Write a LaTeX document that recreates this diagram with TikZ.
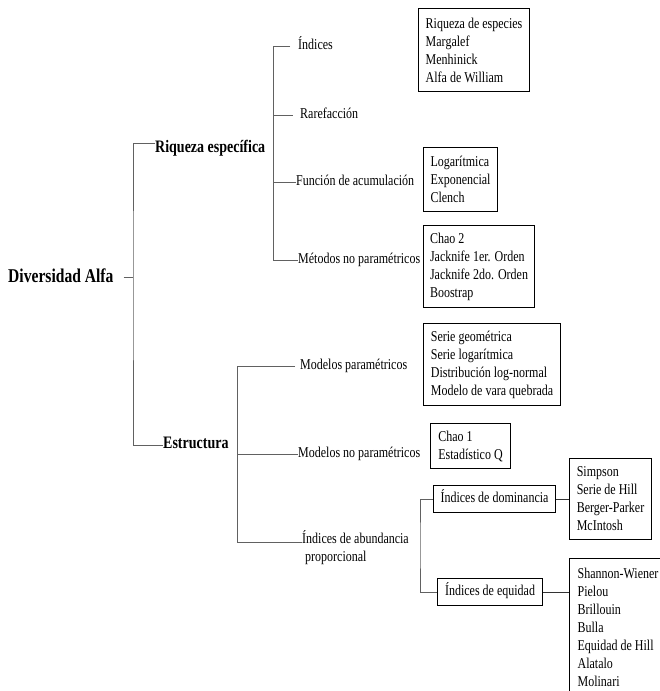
\documentclass[tikz,border=0pt]{standalone}
\usepackage{fontspec}
\setmainfont{Liberation Serif}[FakeStretch=0.8]
\begin{document}
\begin{tikzpicture}[x=1pt,y=-1pt,
  conn/.style={draw=black!62, line width=0.8pt},
  lbl/.style={inner sep=0pt, anchor=west, font=\fontsize{15}{18}\selectfont,
    text height=10.5pt, text depth=3.5pt},
  head/.style={lbl, font=\fontsize{17.5}{21}\bfseries\selectfont,
    text height=12pt, text depth=4pt},
  listbox/.style={draw=black, line width=1.1pt, anchor=north west, align=left,
    inner sep=0pt, font=\fontsize{15}{18}\selectfont},
  tagbox/.style={draw=black, line width=1.1pt, anchor=north west, inner sep=0pt,
    minimum height=27pt, font=\fontsize{15}{18}\selectfont,
    text height=10.5pt, text depth=3.5pt}
]
\useasboundingbox (0,0) rectangle (660,691);
\clip (0,0) rectangle (660,691);
\fill[white] (0,0) rectangle (660,691);

% root and first level
\node[head, font=\fontsize{19.5}{23}\bfseries\selectfont] (root) at (8,278) {Diversidad Alfa};
\node[head] (rq) at (155,148) {Riqueza específica};
\node[head] (est) at (163,444) {Estructura};

\coordinate (rootJ) at (133,277);
\draw[conn] ([xshift=10pt,yshift=1pt]root.east) -- (rootJ);
\draw[conn] ([yshift=5pt]rq.west) -| (rootJ) |- ([yshift=-1pt]est.west);

% species richness branch
\node[lbl] (ind) at (298,46) {Índices};
\node[lbl] (rar) at (300,115) {Rarefacción};
\node[lbl] (fun) at (296,182) {Función de acumulación};
\node[lbl] (met) at (298,260) {Métodos no paramétricos};
\coordinate (rqT) at (273,46);
\draw[conn] ([xshift=-8pt]ind.west) -| (rqT |- met.west) -- (met.west);
\draw[conn] (rqT |- rar.west) -- ([xshift=-7pt]rar.west);
\draw[conn] (rqT |- fun.west) -- (fun.west);

% structure branch
\node[lbl] (mp) at (300,366) {Modelos paramétricos};
\node[lbl] (mnp) at (298,454) {Modelos no paramétricos};
\node[inner sep=0pt, anchor=west, align=left, font=\fontsize{15}{18}\selectfont]
  (iap) at (302,548) {Índices de abundancia\\\hspace{3pt}proporcional};
\coordinate (esB) at (237,542);
\draw[conn] ([xshift=-5pt]mp.west) -| (esB) -- (esB -| iap.west);
\draw[conn] (esB |- mnp.west) -- (mnp.west);

% proportional abundance sub-branch
\node[tagbox, minimum width=122pt] (dom) at (433,485) {Índices de dominancia};
\node[tagbox, minimum width=105pt] (equ) at (437,578) {Índices de equidad};
\coordinate (ieJ) at (420,545);
\draw[conn] (dom.west) -| (ieJ) |- (equ.west);

% lists of methods
\node[listbox, minimum width=111pt, minimum height=83pt] (l1) at (418,8)
  {Riqueza de especies\\Margalef\\Menhinick\\Alfa de William};
\node[listbox, minimum width=74pt, minimum height=64pt] (l2) at (423,147)
  {Logarítmica\\Exponencial\\Clench};
\node[listbox, minimum width=111pt, minimum height=82pt] (l3) at (423,225)
  {Chao 2\\Jacknife 1er. Orden\\Jacknife 2do. Orden\\Boostrap};
\node[listbox, minimum width=137pt, minimum height=82pt] (l4) at (423,323)
  {Serie geométrica\\Serie logarítmica\\Distribución log-normal\\Modelo de vara quebrada};
\node[listbox, minimum width=80pt, minimum height=45pt] (l5) at (430,423)
  {Chao 1\\Estadístico Q};
\node[listbox, minimum width=82pt, minimum height=81pt] (l6) at (569,458)
  {Simpson\\Serie de Hill\\Berger-Parker\\McIntosh};
\node[listbox, minimum width=97pt, minimum height=137pt] (l7) at (569,558)
  {Shannon-Wiener\\Pielou\\Brillouin\\Bulla\\Equidad de Hill\\Alatalo\\Molinari};

\draw[conn, draw=black!80] (dom.east) -- (l6.west |- dom.east);
\draw[conn, draw=black!80] (equ.east) -- (l7.west |- equ.east);
\end{tikzpicture}
\end{document}
